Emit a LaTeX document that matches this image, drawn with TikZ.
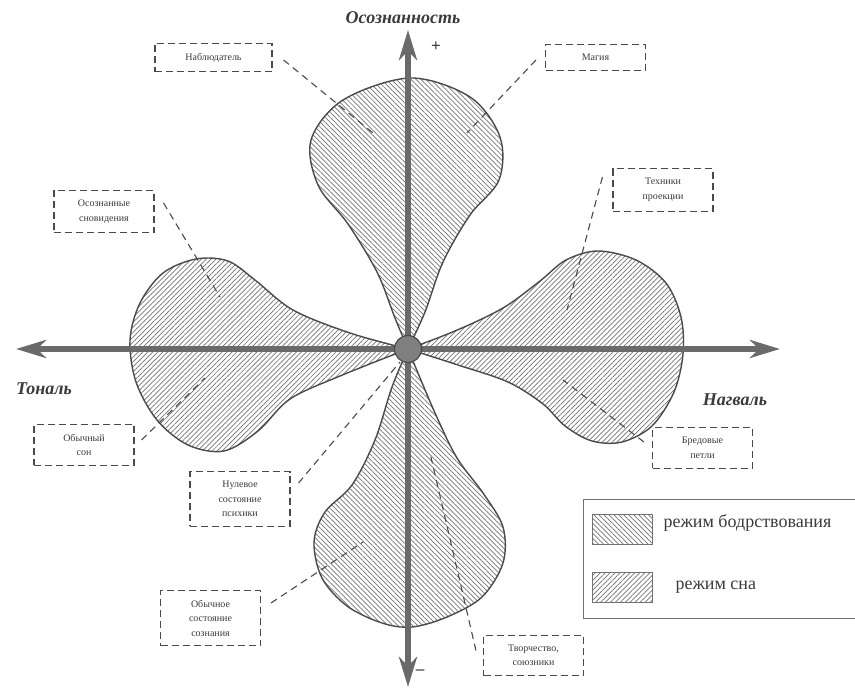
\documentclass[tikz,border=0pt]{standalone}
\usepackage{fontspec}
\setmainfont{Liberation Serif}
\usepackage{xcolor}
\definecolor{inkGray}{HTML}{4A4A4A}
\definecolor{axisGray}{HTML}{6A6A6A}
\definecolor{hatchGray}{HTML}{727272}
\definecolor{textGray}{HTML}{3A3A3A}
\usepackage{tikz}
\usetikzlibrary{arrows.meta,patterns.meta}
\tikzset{
  lobe/.style={
    draw=inkGray,
    line width=1.4pt
  },
  wakehatch/.style={
    pattern={Lines[angle=-45,distance=3.5pt,line width=0.7pt]},
    pattern color=hatchGray
  },
  sleephatch/.style={
    pattern={Lines[angle=45,distance=3.5pt,line width=0.7pt]},
    pattern color=hatchGray
  },
  axisline/.style={
    draw=axisGray,
    line width=5.5pt,
    {Stealth[length=30pt,width=18pt,inset=9pt]}-{Stealth[length=30pt,width=18pt,inset=9pt]}
  },
  hub/.style={
    circle,
    draw=inkGray,
    fill=axisGray!85,
    line width=1.2pt,
    minimum size=27pt,
    inner sep=0pt
  },
  tag/.style={
    draw=inkGray,
    dash pattern=on 7pt off 4pt,
    line width=1.1pt,
    minimum width=100pt,
    inner xsep=4pt,
    inner ysep=9.5pt,
    align=center,
    text=textGray,
    font=\fontsize{10}{14.5}\selectfont
  },
  leader/.style={
    draw=inkGray,
    dash pattern=on 7pt off 5pt,
    line width=1.1pt
  },
  axislabel/.style={
    text=textGray,
    font=\fontsize{18}{20}\selectfont\bfseries\itshape
  },
  sign/.style={
    text=textGray,
    font=\fontsize{17}{18}\selectfont\bfseries
  },
  swatch/.style={
    draw=hatchGray,
    line width=0.8pt,
    minimum width=60pt,
    minimum height=30pt,
    inner sep=0pt
  },
  keytext/.style={
    anchor=west,
    text=textGray,
    font=\fontsize{18}{20}\selectfont
  }
}

\begin{document}
\begin{tikzpicture}[x=1pt,y=-1pt]
  \useasboundingbox (0,0) rectangle (855,688);
  % lobes: waking (top, bottom) and sleep (left, right)
  \path[lobe,wakehatch] plot[smooth,tension=0.55] coordinates {(408,349) (395,318) (377,272) (348,224) (318,185) (311,140) (343,100) (410,78) (470,97) (500,137) (499,180) (470,215) (443,262) (425,312) (408,349)} -- cycle;
  \path[lobe,wakehatch] plot[smooth,tension=0.55] coordinates {(408,349) (392,387) (375,440) (352,485) (325,512) (314,542) (322,578) (347,606) (382,623) (412,627) (447,617) (482,597) (503,563) (503,527) (483,493) (457,458) (435,413) (408,349)} -- cycle;
  \path[lobe,sleephatch] plot[smooth,tension=0.55] coordinates {(408,349) (350,333) (293,310) (255,280) (228,261) (196,259) (163,273) (140,303) (130,340) (136,382) (157,420) (188,445) (224,451) (258,431) (290,399) (340,376) (408,349)} -- cycle;
  \path[lobe,sleephatch] plot[smooth,tension=0.55] coordinates {(408,349) (455,331) (503,308) (540,281) (566,260) (598,251) (636,260) (666,283) (681,317) (683,354) (674,392) (652,426) (622,442) (592,441) (565,426) (543,404) (508,382) (458,365) (408,349)} -- cycle;

  % axes
  \coordinate (west) at (16,349);
  \coordinate (east) at (780,349);
  \coordinate (north) at (408,30);
  \coordinate (south) at (408,687);
  \draw[axisline] (west) -- (east);
  \draw[axisline] (south) -- (north);
  \node[hub] (origin) at (408,349) {};

  \node[axislabel] (aware) at (403,18) {Осознанность};
  \node[axislabel] (tonal) at (44,389) {Тональ};
  \node[axislabel] (nagual) at (735,400) {Нагваль};
  \node[sign] (plus) at (436,47) {+};
  \node[sign] (minus) at (420,672) {\textendash};

  % labels
  \node[tag,minimum width=117pt] (nabl) at (213.5,57.5) {Наблюдатель};
  \node[tag] (magia) at (595.5,57.5) {Магия};
  \node[tag] (tech) at (663,190) {Техники\\проекции};
  \node[tag] (lucid) at (104,211.5) {Осознанные\\сновидения};
  \node[tag] (usualsleep) at (84,445) {Обычный\\сон};
  \node[tag] (zero) at (240,499) {Нулевое\\состояние\\психики};
  \node[tag] (ordinary) at (210.5,618) {Обычное\\состояние\\сознания};
  \node[tag] (creative) at (533.5,655.5) {Творчество,\\союзники};
  \node[tag] (loops) at (702.5,448) {Бредовые\\петли};

  \coordinate (nablpt) at (373,133);
  \coordinate (magiapt) at (467,133);
  \coordinate (techpt) at (567,310);
  \coordinate (lucidpt) at (220,297);
  \coordinate (usualsleeppt) at (205,378);
  \coordinate (zeropt) at (400,362);
  \coordinate (ordinarypt) at (363,542);
  \coordinate (creativept) at (430,453);
  \coordinate (loopspt) at (563,380);

  \draw[leader] ([shift={(11,2.5)}]nabl.east) -- (nablpt);
  \draw[leader] ([shift={(-9,2.5)}]magia.west) -- (magiapt);
  \draw[leader] ([shift={(-10,-13)}]tech.west) -- (techpt);
  \draw[leader] ([shift={(9,-8.5)}]lucid.east) -- (lucidpt);
  \draw[leader] ([shift={(7,-5)}]usualsleep.east) -- (usualsleeppt);
  \draw[leader] ([shift={(8,-16)}]zero.east) -- (zeropt);
  \draw[leader] ([shift={(10,-15)}]ordinary.east) -- (ordinarypt);
  \draw[leader] ([shift={(-7,-5)}]creative.west) -- (creativept);
  \draw[leader] ([shift={(-8,-6)}]loops.west) -- (loopspt);

  % legend
  \draw[draw=hatchGray,line width=1pt] (858,499) -- (583,499) -- (583,618) -- (858,618);
  \node[swatch,wakehatch] (wakekey) at (622,529) {};
  \node[swatch,sleephatch] (sleepkey) at (622,587) {};
  \node[keytext] (waketext) at (660,523) {режим бодрствования};
  \node[keytext] (sleeptext) at (672,587) {режим сна};
\end{tikzpicture}
\end{document}
